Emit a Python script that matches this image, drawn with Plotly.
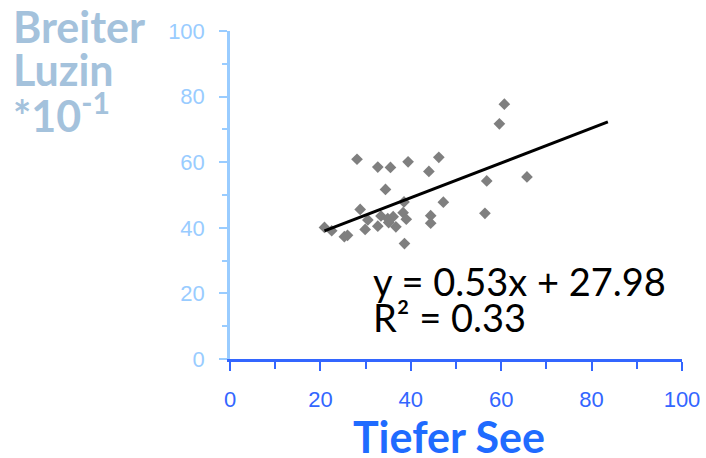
import plotly.graph_objects as go

# Data
tiefer_see = [60.7, 59.6, 28.1, 32.7, 35.5, 39.4, 46.2, 44.0, 34.4, 56.8, 65.7,
              47.2, 38.5, 28.8, 56.4, 33.4, 36.1, 38.3, 39.0, 44.4, 30.5, 44.4,
              35.1, 36.7, 32.7, 29.9, 20.9, 22.5, 25.3, 26.0, 38.6, 34.9]
breiter_luzin = [77.7, 71.7, 60.9, 58.5, 58.4, 60.1, 61.5, 57.2, 51.7, 54.3, 55.5,
                 47.8, 47.9, 45.6, 44.4, 43.6, 43.4, 44.6, 42.6, 43.7, 42.4, 41.4,
                 41.6, 40.3, 40.5, 39.5, 40.1, 39.1, 37.3, 37.7, 35.2, 42.8]

slope = 0.53
intercept = 27.98
r_squared = 0.33
trend_x = [min(tiefer_see), 83.6]
trend_y = [slope * v + intercept for v in trend_x]

x_ticks = [0, 20, 40, 60, 80, 100]
y_ticks = [0, 20, 40, 60, 80, 100]

# Layout geometry (pixels)
W, H = 706, 458
L, R, T, B = 230, 24, 31, 99
PW, PH = W - L - R, H - T - B


def px_x(p):
    return (p - L) / PW


def px_y(p):
    return (H - B - p) / PH


fig = go.Figure()
fig.add_trace(go.Scatter(
    x=tiefer_see, y=breiter_luzin, mode="markers",
    marker=dict(symbol="diamond", size=9, color="#7f7f7f", line=dict(width=0)),
    hoverinfo="x+y", showlegend=False,
))
fig.add_trace(go.Scatter(
    x=trend_x, y=trend_y, mode="lines",
    line=dict(color="black", width=3), showlegend=False, hoverinfo="skip",
))

x_blue = "#3366ff"
y_blue = "#99ccff"

fig.update_layout(
    width=W, height=H, autosize=False,
    margin=dict(l=L, r=R, t=T, b=B, pad=0, autoexpand=False),
    paper_bgcolor="white", plot_bgcolor="white",
    xaxis=dict(
        range=[0, 100], tickvals=x_ticks, showgrid=False, zeroline=False,
        showline=True, linecolor=x_blue, linewidth=3, automargin=False,
        ticks="outside", ticklen=9, tickwidth=2, tickcolor=x_blue,
        minor=dict(dtick=10, ticks="outside", ticklen=7, tickwidth=2, tickcolor=x_blue, showgrid=False),
        tickfont=dict(family="Liberation Sans", size=22, color=x_blue),
        ticklabelstandoff=10,
        fixedrange=True,
    ),
    yaxis=dict(
        range=[0, 100], tickvals=y_ticks, showgrid=False, zeroline=False,
        showline=True, linecolor=y_blue, linewidth=2.5, automargin=False,
        ticks="outside", ticklen=8, tickwidth=2, tickcolor=y_blue,
        minor=dict(dtick=10, ticks="outside", ticklen=5, tickwidth=2, tickcolor=y_blue, showgrid=False),
        tickfont=dict(family="Liberation Sans", size=22, color=y_blue),
        ticklabelstandoff=10,
        fixedrange=True,
    ),
)

title_font = "Lato"
anns = []
# x-axis title
anns.append(dict(text="<b>Tiefer See</b>", x=px_x(449), y=px_y(436), xref="paper", yref="paper",
                 xanchor="center", yanchor="middle", showarrow=False,
                 font=dict(family=title_font, size=43, color="#1f6bff")))
# y-axis title (three lines, top-left)
ycol = "#a4c2dc"
for txt, cy in [("<b>Breiter</b>", 26), ("<b>Luzin</b>", 69), ("<b>*10<sup>-1</sup></b>", 112)]:
    anns.append(dict(text=txt, x=px_x(11), y=px_y(cy), xref="paper", yref="paper",
                     xanchor="left", yanchor="middle", showarrow=False,
                     font=dict(family=title_font, size=43, color=ycol)))
# regression equation
anns.append(dict(text=f"y = {slope:.2f}x + {intercept:.2f}", x=px_x(371), y=px_y(281),
                 xref="paper", yref="paper", xanchor="left", yanchor="middle", showarrow=False,
                 font=dict(family=title_font, size=38, color="black")))
anns.append(dict(text=f"R² = {r_squared:.2f}", x=px_x(371), y=px_y(317),
                 xref="paper", yref="paper", xanchor="left", yanchor="middle", showarrow=False,
                 font=dict(family=title_font, size=38, color="black")))
fig.update_layout(annotations=anns)

fig.write_html("out.html")
